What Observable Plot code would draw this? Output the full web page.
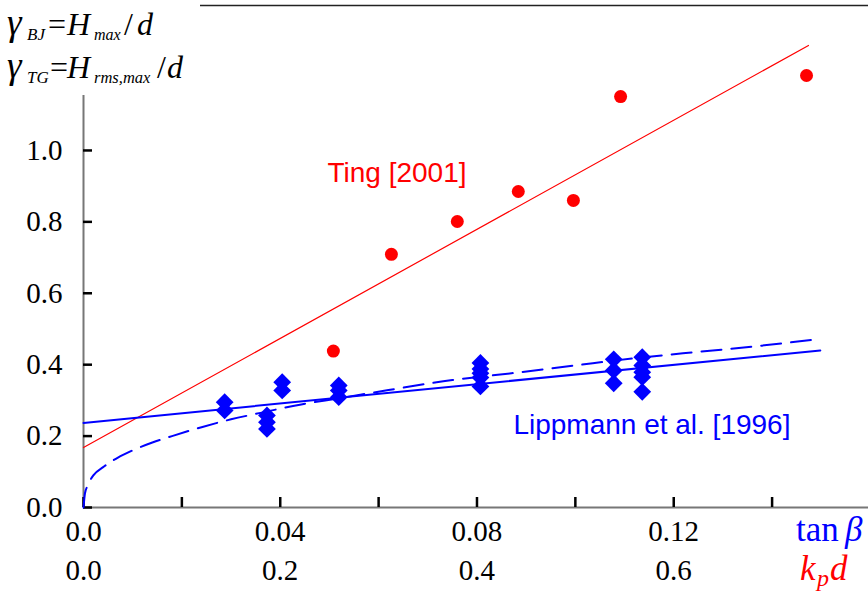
<!DOCTYPE html>
<html>
<head>
<meta charset="utf-8">
<script src="https://cdn.jsdelivr.net/npm/d3@7"></script>
<script src="https://cdn.jsdelivr.net/npm/@observablehq/plot@0.6"></script>
<style>
  html, body { margin: 0; padding: 0; background: #fff; }
  #chart { width: 868px; height: 592px; }
</style>
</head>
<body>
<div id="chart"></div>
<script>
// Breaker index γ against beach slope tan β (Lippmann) and relative depth k_p d (Ting)

// Ting [2001]: measured points and fitted line, in k_p d
const tingKpd   = [0.254, 0.313, 0.380, 0.442, 0.498, 0.546, 0.735];
const tingGamma = [0.438, 0.709, 0.801, 0.885, 0.860, 1.151, 1.210];
const tingFitKpd   = [0, 0.737];
const tingFitGamma = [0.168, 1.294];

// Lippmann et al. [1996]: measured points, linear fit and power-type curve, in tan β
const lippTan = [
  0.0287, 0.0287,
  0.0373, 0.0373, 0.0373,
  0.0404, 0.0404,
  0.0519, 0.0519, 0.0519,
  0.0807, 0.0807, 0.0807, 0.0807, 0.0807,
  0.1078, 0.1078, 0.1078,
  0.1136, 0.1136, 0.1136, 0.1136, 0.1136
];
const lippGamma = [
  0.295, 0.272,
  0.258, 0.239, 0.220,
  0.351, 0.328,
  0.342, 0.328, 0.309,
  0.405, 0.388, 0.376, 0.364, 0.339,
  0.415, 0.384, 0.348,
  0.421, 0.398, 0.379, 0.365, 0.324
];
const lippFitTan   = [0, 0.1498];
const lippFitGamma = [0.237, 0.440];
const lippCurveTan   = [0, 0.0003, 0.0008, 0.002, 0.004, 0.007, 0.010, 0.014, 0.018, 0.024, 0.030,
                        0.036, 0.044, 0.052, 0.062, 0.075, 0.087, 0.100, 0.112, 0.125, 0.137, 0.149];
const lippCurveGamma = [0, 0.040, 0.060, 0.090, 0.113, 0.140, 0.160, 0.182, 0.200, 0.225, 0.247,
                        0.265, 0.288, 0.306, 0.329, 0.357, 0.376, 0.398, 0.418, 0.436, 0.452, 0.471];

// Axes
const yTicks = [0, 0.2, 0.4, 0.6, 0.8, 1.0];
const xTickMarks = [0, 0.02, 0.04, 0.06, 0.08, 0.10, 0.12, 0.14];
const tanTicks = [0, 0.04, 0.08, 0.12];
const tanTickLabels = ["0.0", "0.04", "0.08", "0.12"];
const kpdTicks = [0, 0.2, 0.4, 0.6];
const kpdTickLabels = ["0.0", "0.2", "0.4", "0.6"];
const TAN_PER_KPD = 0.2; // k_p d = 0.2 sits under tan β = 0.04

// Series names written next to the data
const seriesLabels = [
  {text: "Ting [2001]", tan: 0.0496, gamma: 0.938, color: "#ff0000"},
  {text: "Lippmann et al. [1996]", tan: 0.0874, gamma: 0.230, color: "#0000ff"}
];

const ting = tingKpd.map((k, i) => ({tan: k * TAN_PER_KPD, gamma: tingGamma[i]}));
const tingFit = tingFitKpd.map((k, i) => ({tan: k * TAN_PER_KPD, gamma: tingFitGamma[i]}));
const lipp = lippTan.map((t, i) => ({tan: t, gamma: lippGamma[i]}));
const lippFit = lippFitTan.map((t, i) => ({tan: t, gamma: lippFitGamma[i]}));
const lippCurve = lippCurveTan.map((t, i) => ({tan: t, gamma: lippCurveGamma[i]}));

const serif = "'Liberation Serif', 'Times New Roman', serif";
const sans = "'Liberation Sans', Arial, sans-serif";

const plot = Plot.plot({
  width: 868,
  height: 592,
  marginLeft: 83,
  marginRight: 0,
  marginTop: 5,
  marginBottom: 85,
  x: {domain: [0, 0.1596]},
  y: {domain: [0, 1.406]},
  style: {fontFamily: serif, background: "white", color: "black"},
  marks: [
    Plot.ruleX([0], {stroke: "#777", strokeWidth: 2}),
    Plot.ruleY([0], {stroke: "#777", strokeWidth: 2}),
    Plot.frame({anchor: "top", stroke: "#222", strokeWidth: 1.5}),
    Plot.axisX({ticks: xTickMarks, tickSize: -10, tickFormat: () => "", stroke: "black", strokeWidth: 2.5, label: null}),
    Plot.axisY({ticks: yTicks, tickSize: -9, tickFormat: () => "", stroke: "black", strokeWidth: 2.5, label: null}),
    Plot.axisY({ticks: yTicks, tickSize: 0, tickPadding: 21, tickFormat: d => d.toFixed(1), fontSize: 29, label: null}),
    Plot.text(tanTicks, {x: d => d, text: (d, i) => tanTickLabels[i], frameAnchor: "bottom", lineAnchor: "middle", dy: 24, fontSize: 29}),
    Plot.text(kpdTicks, {x: d => d * TAN_PER_KPD, text: (d, i) => kpdTickLabels[i], frameAnchor: "bottom", lineAnchor: "middle", dy: 63, fontSize: 29}),
    Plot.line(tingFit, {x: "tan", y: "gamma", stroke: "#ff0000", strokeWidth: 1.2}),
    Plot.line(lippCurve, {x: "tan", y: "gamma", stroke: "#0000ff", strokeWidth: 2, strokeDasharray: "20,10", curve: "monotone-x"}),
    Plot.line(lippFit, {x: "tan", y: "gamma", stroke: "#0000ff", strokeWidth: 2}),
    Plot.dot(lipp, {x: "tan", y: "gamma", symbol: "diamond2", r: 8, fill: "#0000ff"}),
    Plot.dot(ting, {x: "tan", y: "gamma", r: 6.5, fill: "#ff0000"}),
    Plot.text(seriesLabels, {x: "tan", y: "gamma", text: "text", fill: "color", textAnchor: "start", fontSize: 28, fontFamily: sans})
  ]
});

document.getElementById("chart").append(plot);

// Formula block for the y quantity and the two x quantity names
const svg = d3.select(plot);
svg.append("rect").attr("x", 0).attr("y", 0).attr("width", 200).attr("height", 95).attr("fill", "white");

function writeLabel(pieces, color) {
  const t = svg.append("text")
    .attr("fill", color)
    .attr("font-family", serif)
    .attr("text-anchor", "start");
  for (const p of pieces) {
    t.append("tspan")
      .attr("x", p.x).attr("y", p.y)
      .attr("font-size", p.size)
      .attr("font-style", p.italic ? "italic" : "normal")
      .text(p.t);
  }
}

writeLabel([
  {t: "γ", x: 7, y: 35, size: 37, italic: true},
  {t: "BJ", x: 27, y: 39.5, size: 17, italic: true},
  {t: "=", x: 48, y: 35, size: 32},
  {t: "H", x: 67, y: 35, size: 32, italic: true},
  {t: "max", x: 94, y: 39.5, size: 16, italic: true},
  {t: "/", x: 124, y: 35, size: 32},
  {t: "d", x: 137, y: 35, size: 32, italic: true}
], "black");

writeLabel([
  {t: "γ", x: 7, y: 78, size: 37, italic: true},
  {t: "TG", x: 27, y: 82.5, size: 17, italic: true},
  {t: "=", x: 50, y: 78, size: 32},
  {t: "H", x: 67, y: 78, size: 32, italic: true},
  {t: "rms,max", x: 94, y: 82.5, size: 16.5, italic: true},
  {t: "/", x: 157, y: 78, size: 32},
  {t: "d", x: 167, y: 78, size: 32, italic: true}
], "black");

writeLabel([
  {t: "tan", x: 796, y: 541, size: 35},
  {t: "β", x: 845, y: 541, size: 35, italic: true}
], "#0000ff");

writeLabel([
  {t: "k", x: 800, y: 580, size: 35, italic: true},
  {t: "p", x: 817, y: 586, size: 24, italic: true},
  {t: "d", x: 830, y: 580, size: 35, italic: true}
], "#ff0000");
</script>
</body>
</html>
